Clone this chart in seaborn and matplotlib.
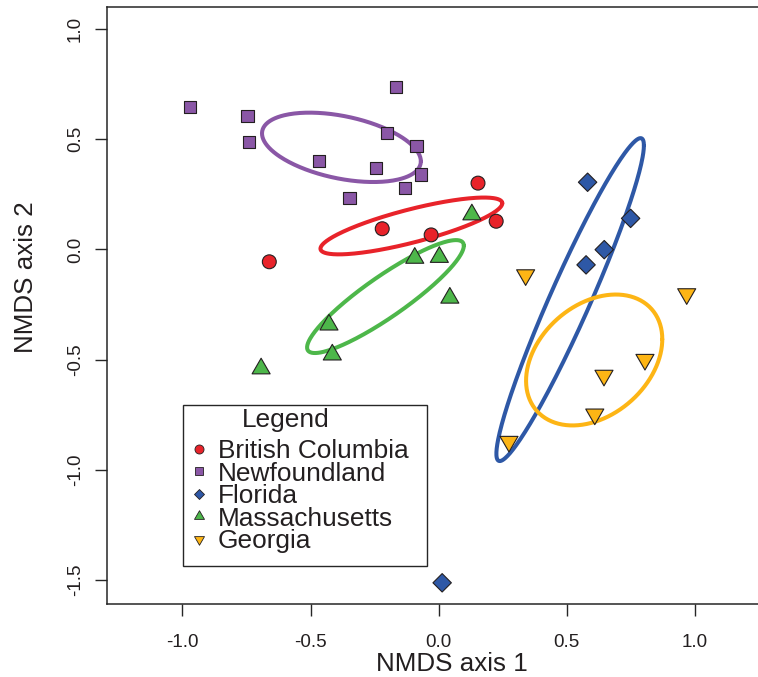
import numpy as np
import pandas as pd
import matplotlib
matplotlib.use("Agg")
import matplotlib.pyplot as plt
from matplotlib.path import Path
from matplotlib.lines import Line2D
from matplotlib.patches import Rectangle
import seaborn as sns

# NMDS site scores per region
bc_x = [0.154, -0.220, -0.029, 0.225, -0.661]
bc_y = [0.301, 0.094, 0.066, 0.128, -0.056]

nf_x = [-0.971, -0.746, -0.740, -0.167, -0.202, -0.086, -0.468, -0.245, -0.070, -0.130, -0.348]
nf_y = [0.648, 0.604, 0.486, 0.737, 0.528, 0.469, 0.403, 0.370, 0.340, 0.280, 0.233]

fl_x = [0.582, 0.750, 0.647, 0.576, 0.014]
fl_y = [0.305, 0.141, -0.001, -0.070, -1.513]

ma_x = [0.130, -0.093, 0.003, 0.044, -0.428, -0.415, -0.693]
ma_y = [0.158, -0.039, -0.035, -0.220, -0.342, -0.478, -0.541]

ga_x = [0.340, 0.969, 0.806, 0.646, 0.610, 0.275]
ga_y = [-0.116, -0.202, -0.500, -0.572, -0.748, -0.872]

regions = ["British Columbia", "Newfoundland", "Florida", "Massachusetts", "Georgia"]
x_ticks = [-1.0, -0.5, 0.0, 0.5, 1.0]
y_ticks = [-1.5, -1.0, -0.5, 0.0, 0.5, 1.0]

colors = {
    "British Columbia": "#E8232A",
    "Newfoundland": "#8A57A6",
    "Florida": "#2E58A6",
    "Massachusetts": "#4DB74A",
    "Georgia": "#FDB515",
}

# equilateral triangles centred on their centroid
tri_up = Path([(0, 1), (-0.866, -0.5), (0.866, -0.5), (0, 1)],
              [Path.MOVETO, Path.LINETO, Path.LINETO, Path.CLOSEPOLY])
tri_down = Path([(0, -1), (-0.866, 0.5), (0.866, 0.5), (0, -1)],
                [Path.MOVETO, Path.LINETO, Path.LINETO, Path.CLOSEPOLY])

markers = {
    "British Columbia": "o",
    "Newfoundland": "s",
    "Florida": "D",
    "Massachusetts": tri_up,
    "Georgia": tri_down,
}
point_sizes = {
    "British Columbia": 100,
    "Newfoundland": 76,
    "Florida": 88,
    "Massachusetts": 225,
    "Georgia": 225,
}

xs = [bc_x, nf_x, fl_x, ma_x, ga_x]
ys = [bc_y, nf_y, fl_y, ma_y, ga_y]
df = pd.concat(
    [pd.DataFrame({"NMDS1": x, "NMDS2": y, "region": r}) for r, x, y in zip(regions, xs, ys)],
    ignore_index=True,
)

sns.set_style("white")
plt.rcParams["font.family"] = ["Liberation Sans", "DejaVu Sans"]
plt.rcParams["axes.unicode_minus"] = False

W, H = 758, 677
fig = plt.figure(figsize=(W / 100, H / 100), dpi=100)
left, right, top, bottom = 106.7, 796.3, 7.3, 604.4
ax = fig.add_axes([left / W, (H - bottom) / H, (right - left) / W, (bottom - top) / H])

# standard-deviation ellipses around each group centroid
t = np.linspace(0, 2 * np.pi, 300)
circle = np.vstack([np.cos(t), np.sin(t)])
for r in ["Newfoundland", "British Columbia", "Massachusetts", "Florida", "Georgia"]:
    g = df[df["region"] == r]
    pts = np.vstack([g["NMDS1"].values, g["NMDS2"].values])
    centre = pts.mean(axis=1, keepdims=True)
    chol = np.linalg.cholesky(np.cov(pts))
    ell = centre + chol @ circle
    ax.plot(ell[0], ell[1], color=colors[r], lw=2.9, zorder=2, solid_capstyle="round")

sns.scatterplot(
    data=df, x="NMDS1", y="NMDS2",
    hue="region", style="region", size="region",
    hue_order=regions, style_order=regions, size_order=regions,
    palette=colors, markers=markers, sizes=point_sizes,
    edgecolor="#231F20", linewidth=0.8, legend=False, ax=ax, zorder=3,
)

ax.set_xlim(-1.296, 1.397)
ax.set_ylim(-1.611, 1.099)
ax.set_xticks(x_ticks)
ax.set_xticklabels([f"{v:.1f}" for v in x_ticks])
ax.set_yticks(y_ticks)
ax.set_yticklabels([f"{v:.1f}" for v in y_ticks], rotation=90, va="center")

for side in ["left", "bottom", "top"]:
    ax.spines[side].set_visible(True)
    ax.spines[side].set_color("#262626")
    ax.spines[side].set_linewidth(1.1)
ax.spines["right"].set_visible(False)

ax.tick_params(axis="both", which="major", direction="out", length=8.3, width=1.0,
               color="#262626", labelsize=13.6, labelcolor="#231F20",
               bottom=True, left=True)
ax.tick_params(axis="x", pad=13.2)
ax.tick_params(axis="y", pad=8.2)

ax.set_xlabel("NMDS axis 1", fontsize=18.7, color="#231F20", va="baseline")
ax.set_ylabel("NMDS axis 2", fontsize=18.7, color="#231F20", va="baseline")
ax.xaxis.set_label_coords(0.5, (bottom - 671.0) / (bottom - top))
ax.yaxis.set_label_coords((33.3 - left) / (right - left), (bottom - 277.5) / (bottom - top))

# legend: white framed box, title and one keyed row per region
ax.add_patch(Rectangle((183 / W, (H - 566) / H), 243.5 / W, 161.5 / H,
                       transform=fig.transFigure, facecolor="white",
                       edgecolor="#262626", lw=1.0, zorder=4))
ax.text(286 / W, (H - 426.7) / H, "Legend", transform=fig.transFigure,
        ha="center", va="baseline", fontsize=18.9, color="#231F20", zorder=6)

leg_sizes = {"British Columbia": 6.5, "Newfoundland": 5.8, "Florida": 5.3,
             "Massachusetts": 8.3, "Georgia": 8.3}
handles = [
    Line2D([], [], ls="none", marker=markers[r], markersize=leg_sizes[r],
           markerfacecolor=colors[r], markeredgecolor="#231F20", markeredgewidth=0.6)
    for r in regions
]
leg = ax.legend(
    handles, regions, loc="upper left",
    bbox_to_anchor=(191.3 / W, (H - 439.0) / H), bbox_transform=fig.transFigure,
    frameon=False, fontsize=18.9, borderpad=0, borderaxespad=0,
    handlelength=0.61, handletextpad=0.40, labelspacing=-0.055,
)
leg.set_zorder(7)
for txt in leg.get_texts():
    txt.set_color("#231F20")

fig.savefig("out.png", dpi=100)
